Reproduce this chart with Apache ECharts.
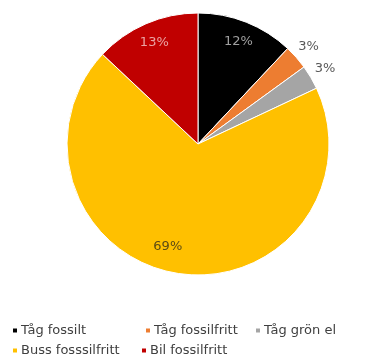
<!DOCTYPE html>
<html><head><meta charset="utf-8">
<script src="https://cdn.jsdelivr.net/npm/echarts@6/dist/echarts.min.js"></script>
<style>html,body{margin:0;padding:0;background:#fff}#c{width:369px;height:363px}</style>
</head><body><div id="c"></div>
<script>
const categories = ['Tåg fossilt','Tåg fossilfritt','Tåg grön el','Buss fosssilfritt','Bil fossilfritt'];
const values = [12, 3, 3, 69, 13];
const labels = ['12%','3%','3%','69%','13%'];
const colors = ['#000000','#ED7D31','#A5A5A5','#FFC000','#C00000'];
const insideLabel = [true, false, false, true, true];
const insideLabelColors = ['#a0a0a0', null, null, '#5c4b14', '#eaa3a3'];

const center = [198, 144];
const R = 131;

const mainData = categories.map((n,i)=>({name:n, value:values[i], itemStyle:{color:colors[i]}}));
const innerData = categories.map((n,i)=>({name:n, value:values[i],
  label:{show:insideLabel[i], formatter:labels[i], color:insideLabelColors[i] || '#595959'}}));
const outerData = categories.map((n,i)=>({name:n, value:values[i],
  label:{show:!insideLabel[i], formatter:labels[i], color:'#595959'}}));

const FONT = 'DejaVu Sans';
const legendPos = [[11,324],[144,324],[254,324],[11,344],[140,344]];
const legends = categories.map((n,i)=>({
  data:[{name:n, itemStyle:{color:colors[i]}}],
  left:legendPos[i][0], top:legendPos[i][1], orient:'horizontal',
  icon:'rect', itemWidth:6, itemHeight:6, padding:0,
  textStyle:{fontFamily:FONT, fontSize:13, color:'#404040', padding:[0,0,0,-2]}
}));

const chart = echarts.init(document.getElementById('c'), null, {renderer:'canvas'});
chart.setOption({
  animation:false,
  legend: legends,
  series:[
    {type:'pie', name:'main', center:center, radius:[0,R], startAngle:90, clockwise:true,
     data:mainData, label:{show:false}, labelLine:{show:false},
     itemStyle:{borderColor:'#ffffff', borderWidth:1}, emphasis:{disabled:true}},
    {type:'pie', name:'inner', center:center, radius:[R-48,R], startAngle:90, clockwise:true,
     data:innerData, silent:true, itemStyle:{color:'rgba(0,0,0,0)'},
     label:{position:'inside', fontFamily:FONT, fontSize:13}, labelLine:{show:false},
     labelLayout:function(p){ return p.dataIndex === 3 ? {dx:-13, dy:-6} : {}; },
     emphasis:{disabled:true}},
    {type:'pie', name:'outer', center:center, radius:[R,R+27], startAngle:90, clockwise:true,
     data:outerData, silent:true, itemStyle:{color:'rgba(0,0,0,0)'},
     label:{position:'inside', fontFamily:FONT, fontSize:13}, labelLine:{show:false},
     emphasis:{disabled:true}}
  ]
});
</script></body></html>
